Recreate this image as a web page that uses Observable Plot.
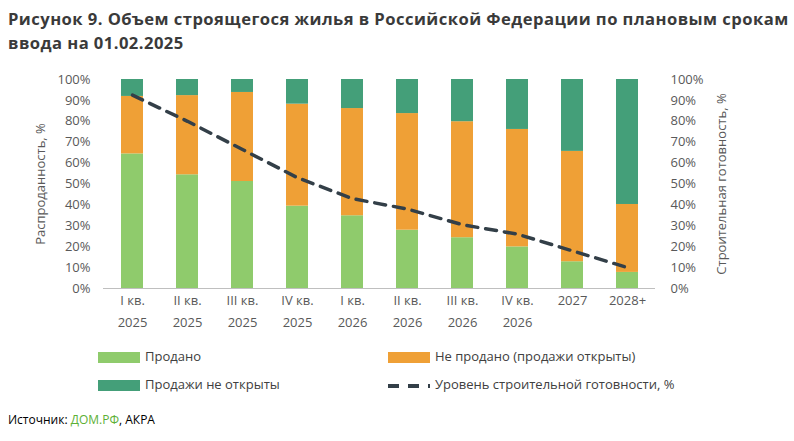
<!DOCTYPE html>
<html><head><meta charset="utf-8">
<script src="https://cdn.jsdelivr.net/npm/d3@7"></script>
<script src="https://cdn.jsdelivr.net/npm/@observablehq/plot@0.6"></script>
<style>
body{margin:0;background:#fff;font-family:"Open Sans",sans-serif;width:794px;height:441px;position:relative;overflow:hidden}
#title{position:absolute;left:8px;top:7px;font-weight:bold;font-size:16.6px;letter-spacing:0.45px;line-height:24px;color:#3a3a3a;white-space:nowrap}
#chart{position:absolute;left:0;top:60px}
.leg{position:absolute;font-size:13px;color:#404040;white-space:nowrap}
.sw{position:absolute;width:42px;height:11px}
#src{position:absolute;left:8px;top:411px;font-size:12px;color:#000}
</style></head><body>
<div id="title">Рисунок 9. Объем строящегося жилья в Российской Федерации по плановым срокам<br>ввода на 01.02.2025</div>
<div id="chart"></div>
<div class="sw" style="left:98px;top:352px;background:#8fcb6c"></div><div class="leg" style="left:145px;top:347px">Продано</div>
<div class="sw" style="left:388px;top:352px;background:#efa036"></div><div class="leg" style="left:435px;top:347px">Не продано (продажи открыты)</div>
<div class="sw" style="left:98px;top:380px;background:#449f79"></div><div class="leg" style="left:145px;top:375px">Продажи не открыты</div>
<svg style="position:absolute;left:386px;top:380px" width="46" height="12"><line x1="2" y1="6" x2="44" y2="6" stroke="#333f48" stroke-width="4" stroke-dasharray="11,9"/></svg><div class="leg" style="left:435px;top:375px">Уровень строительной готовности, %</div>
<div id="src">Источник: <span style="color:#5cb035">ДОМ.РФ</span>, АКРА</div>
<script>
const categories = ["I кв.\n2025","II кв.\n2025","III кв.\n2025","IV кв.\n2025","I кв.\n2026","II кв.\n2026","III кв.\n2026","IV кв.\n2026","2027","2028+"];
const seriesNames = ["Продано","Не продано (продажи открыты)","Продажи не открыты"];
const sold      = [64.4, 54.4, 51.2, 39.4, 34.8, 27.9, 24.3, 19.9, 12.8, 7.7];
const unsoldOpen= [27.5, 37.9, 42.6, 48.8, 51.3, 55.8, 55.5, 56.2, 52.8, 32.5];
const notOpen   = [8.1, 7.7, 6.2, 11.8, 13.9, 16.3, 20.2, 23.9, 34.4, 59.8];
const readiness = [92.5, 80, 66.5, 53, 43, 38, 30.5, 26, 18, 10];
const colors = ["#8fcb6c","#efa036","#449f79"];

const rows = [];
[sold, unsoldOpen, notOpen].forEach((arr, s) => arr.forEach((v, i) => rows.push({cat: categories[i], series: seriesNames[s], value: v})));
const lineRows = categories.map((c, i) => ({cat: c, value: readiness[i]}));

const chart = Plot.plot({
  width: 794, height: 280,
  marginLeft: 103, marginRight: 139, marginTop: 19, marginBottom: 52,
  style: {fontFamily: "Open Sans, sans-serif", fontSize: "13px", color: "#595959"},
  x: {domain: categories, paddingInner: 0.6, paddingOuter: 0.3, label: null},
  y: {domain: [0, 100], label: null},
  color: {domain: seriesNames, range: colors},
  marks: [
    Plot.barY(rows, {x: "cat", y: "value", fill: "series", order: seriesNames}),
    Plot.ruleY([0], {stroke: "#bfbfbf", strokeWidth: 1.2}),
    Plot.line(lineRows, {x: "cat", y: "value", stroke: "#333f48", strokeWidth: 3.5, strokeDasharray: "11,8"}),
    Plot.axisX({tickSize: 0, tickPadding: 1, lineHeight: 1.7, fontSize: 13, fill: "#595959"}),
    Plot.axisY({anchor: "left", ticks: d3.range(0, 101, 10), tickFormat: d => d + "%", tickSize: 0, tickPadding: 13, label: "Распроданность, %", labelAnchor: "center", labelArrow: "none", labelOffset: 68, fontSize: 13, fill: "#595959"}),
    Plot.axisY({anchor: "right", ticks: d3.range(0, 101, 10), tickFormat: d => d + "%", tickSize: 0, tickPadding: 15, label: "Строительная готовность, %", labelAnchor: "center", labelArrow: "none", labelOffset: 70, fontSize: 13, fill: "#595959"})
  ]
});
document.getElementById("chart").appendChild(chart);
</script>
</body></html>
